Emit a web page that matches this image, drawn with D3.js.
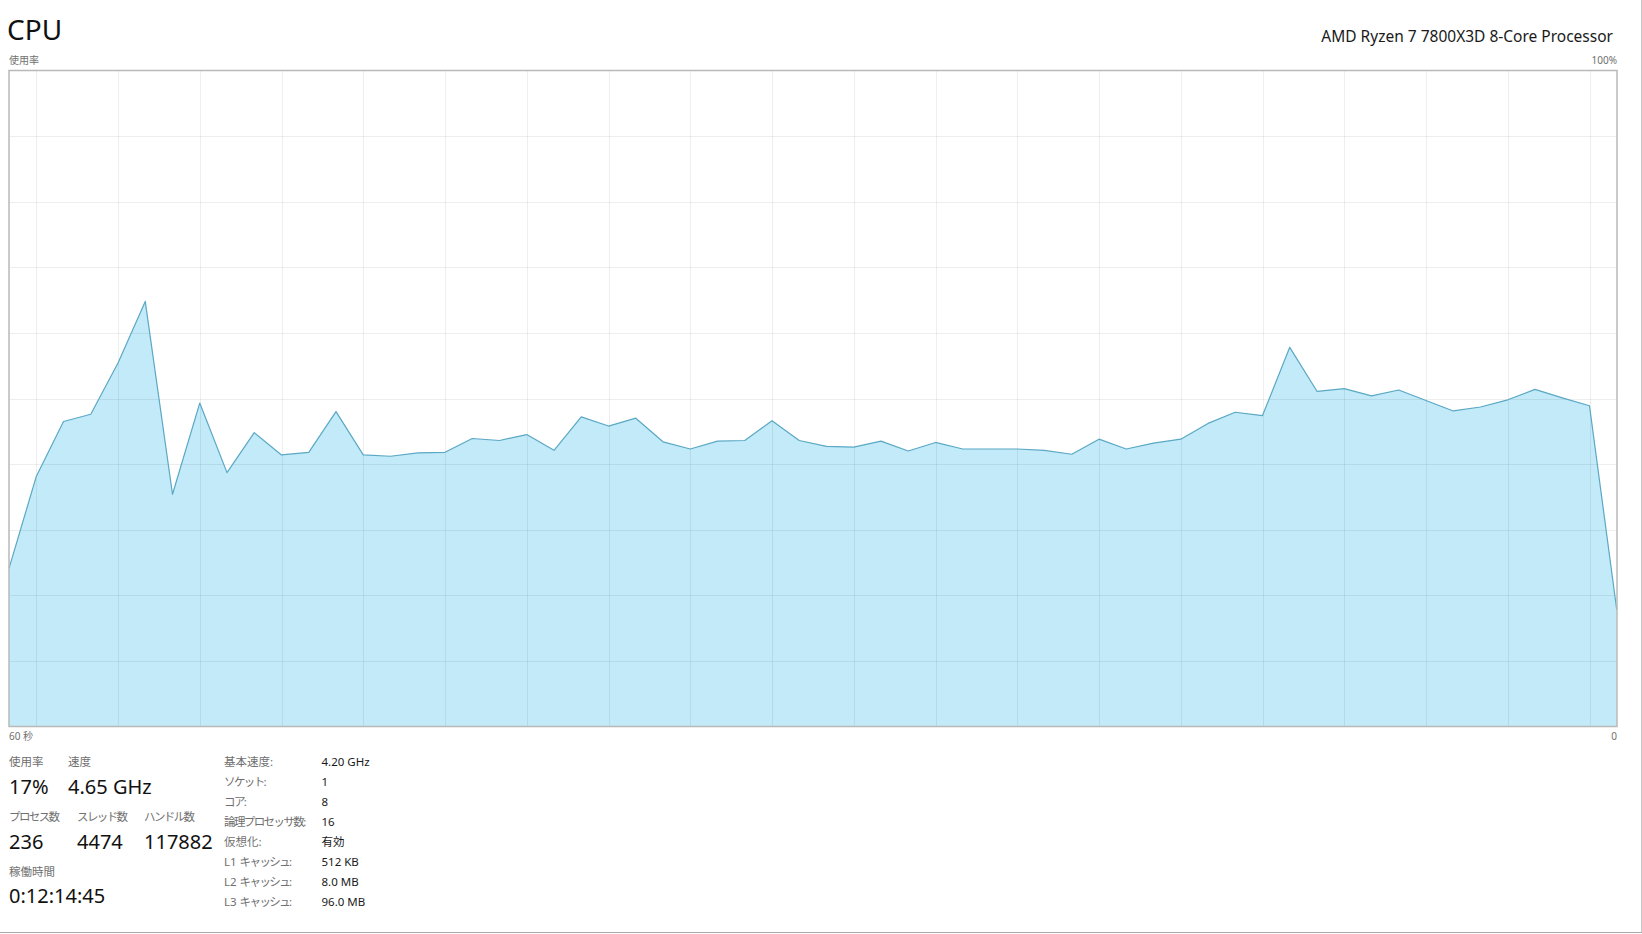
<!DOCTYPE html>
<html>
<head>
<meta charset="utf-8">
<script src="https://cdn.jsdelivr.net/npm/d3@7"></script>
<style>
  body { margin: 0; background: #fff; overflow: hidden; }
  svg { display: block; }
  text { font-family: "Segoe UI", "Noto Sans", "Noto Sans CJK JP", sans-serif; }
</style>
</head>
<body>
<script>
var widthW = 1642;
var heightW = 934;

// cpu usage, one sample per second, oldest first
var seconds = d3.range(60);
var usage = [24.1, 38.1, 46.5, 47.6, 55.4, 64.8, 35.4, 49.3, 38.7, 44.8,
             41.4, 41.8, 48.0, 41.4, 41.2, 41.7, 41.8, 43.9, 43.6, 44.5,
             42.1, 47.2, 45.8, 47.0, 43.4, 42.3, 43.5, 43.6, 46.6, 43.6,
             42.7, 42.6, 43.5, 42.0, 43.3, 42.3, 42.3, 42.3, 42.1, 41.5,
             43.8, 42.3, 43.2, 43.8, 46.2, 47.9, 47.4, 57.8, 51.1, 51.5,
             50.4, 51.3, 49.7, 48.1, 48.7, 49.8, 51.4, 50.1, 48.9, 17.8];

var yGridTicks = [10, 20, 30, 40, 50, 60, 70, 80, 90];
var xGridTicks = d3.range(1, 60, 3);

var title = "CPU";
var processorName = "AMD Ryzen 7 7800X3D 8-Core Processor";
var axisLabels = {yTop: "使用率", yMax: "100%", xLeft: "60 秒", xRight: "0"};

var statLabels1 = ["使用率", "速度"];
var statValues1 = ["17%", "4.65 GHz"];
var statLabels2 = ["プロセス数", "スレッド数", "ハンドル数"];
var statValues2 = ["236", "4474", "117882"];
var uptimeLabel = "稼働時間";
var uptimeValue = "0:12:14:45";

var infoLabels = ["基本速度:", "ソケット:", "コア:", "論理プロセッサ数:", "仮想化:", "L1 キャッシュ:", "L2 キャッシュ:", "L3 キャッシュ:"];
var infoValues = ["4.20 GHz", "1", "8", "16", "有効", "512 KB", "8.0 MB", "96.0 MB"];

var plot = {left: 9, right: 1617, top: 70.5, bottom: 726.5};

var svg = d3.select("body").append("svg")
    .attr("width", widthW)
    .attr("height", heightW);

var x = d3.scaleLinear()
    .domain([0, 59])
    .range([plot.left, plot.left + 59 * 27.25]);

var y = d3.scaleLinear()
    .domain([0, 100])
    .range([plot.bottom, plot.top]);

var area = d3.area()
    .x(function (d, i) { return x(seconds[i]); })
    .y0(y(0))
    .y1(function (d) { return y(d); });

var line = d3.line()
    .x(function (d, i) { return x(seconds[i]); })
    .y(function (d) { return y(d); });

svg.append("path")
    .datum(usage)
    .attr("fill", "#c2eaf8")
    .attr("d", area);

// grid
svg.append("g")
    .selectAll("line")
    .data(yGridTicks)
    .enter()
    .append("line")
    .attr("x1", plot.left)
    .attr("x2", plot.right)
    .attr("y1", function (d) { return Math.round(y(d)) + 0.5; })
    .attr("y2", function (d) { return Math.round(y(d)) + 0.5; })
    .attr("stroke", "rgba(0,0,0,0.065)");

svg.append("g")
    .selectAll("line")
    .data(xGridTicks)
    .enter()
    .append("line")
    .attr("x1", function (d) { return Math.round(x(d)) + 0.5; })
    .attr("x2", function (d) { return Math.round(x(d)) + 0.5; })
    .attr("y1", plot.top)
    .attr("y2", plot.bottom)
    .attr("stroke", "rgba(0,0,0,0.065)");

svg.append("path")
    .datum(usage)
    .attr("fill", "none")
    .attr("stroke", "#5aa8c4")
    .attr("stroke-width", 1.2)
    .attr("stroke-linejoin", "round")
    .attr("d", line);

svg.append("rect")
    .attr("x", plot.left)
    .attr("y", plot.top)
    .attr("width", plot.right - plot.left)
    .attr("height", plot.bottom - plot.top)
    .attr("fill", "none")
    .attr("stroke", "#b9b9b9")
    .attr("stroke-width", 1.5);

// header texts
svg.append("text")
    .attr("x", 7)
    .attr("y", 39.5)
    .style("font-size", "28px")
    .style("fill", "#111")
    .text(title);

svg.append("text")
    .attr("x", 1613)
    .attr("y", 41.5)
    .attr("text-anchor", "end")
    .style("font-size", "15.5px")
    .style("fill", "#1a1a1a")
    .text(processorName);

svg.append("text")
    .attr("x", 9)
    .attr("y", 64)
    .style("font-size", "10px")
    .style("fill", "#707070")
    .text(axisLabels.yTop);

svg.append("text")
    .attr("x", 1617)
    .attr("y", 64)
    .attr("text-anchor", "end")
    .style("font-size", "10px")
    .style("fill", "#707070")
    .text(axisLabels.yMax);

svg.append("text")
    .attr("x", 9)
    .attr("y", 740)
    .style("font-size", "10px")
    .style("fill", "#707070")
    .text(axisLabels.xLeft);

svg.append("text")
    .attr("x", 1617)
    .attr("y", 740)
    .attr("text-anchor", "end")
    .style("font-size", "10px")
    .style("fill", "#707070")
    .text(axisLabels.xRight);

// stats block
var stat1X = [9, 68];
var stat2X = [9, 77, 144];

// katakana in the original UI font is narrow, so squeeze those labels a bit
function kanaSpacing(txt) {
    return /[\u30A0-\u30FF]/.test(txt) ? "-1.6px" : "0px";
}

function smallLabel(txt, px, py) {
    var t = svg.append("text")
        .attr("x", px)
        .attr("y", py)
        .style("font-size", "11.5px")
        .style("fill", "#707070");
    var sp = txt.indexOf(" ");
    if (sp > 0) {
        // keep the latin prefix and its space at normal spacing
        t.append("tspan").text(txt.slice(0, sp + 1));
        t.append("tspan").style("letter-spacing", kanaSpacing(txt)).text(txt.slice(sp + 1));
    } else {
        t.style("letter-spacing", kanaSpacing(txt)).text(txt);
    }
}

function bigValue(txt, px, py) {
    svg.append("text")
        .attr("x", px)
        .attr("y", py)
        .style("font-size", "20px")
        .style("fill", "#111")
        .text(txt);
}

statLabels1.forEach(function (d, i) { smallLabel(d, stat1X[i], 766); });
statValues1.forEach(function (d, i) { bigValue(d, stat1X[i], 794); });
statLabels2.forEach(function (d, i) { smallLabel(d, stat2X[i], 821); });
statValues2.forEach(function (d, i) { bigValue(d, stat2X[i], 848.5); });
smallLabel(uptimeLabel, 9, 876);
bigValue(uptimeValue, 9, 903);

infoLabels.forEach(function (d, i) {
    smallLabel(d, 224, 766 + i * 20);
    svg.append("text")
        .attr("x", 321.5)
        .attr("y", 766 + i * 20)
        .style("font-size", "11.5px")
        .style("fill", "#1a1a1a")
        .text(infoValues[i]);
});

// window edges
svg.append("line")
    .attr("x1", 0)
    .attr("x2", widthW)
    .attr("y1", 932.5)
    .attr("y2", 932.5)
    .attr("stroke", "#a8a8a8");

svg.append("line")
    .attr("x1", 1641.5)
    .attr("x2", 1641.5)
    .attr("y1", 0)
    .attr("y2", 932)
    .attr("stroke", "#c8c8c8");
</script>
</body>
</html>
